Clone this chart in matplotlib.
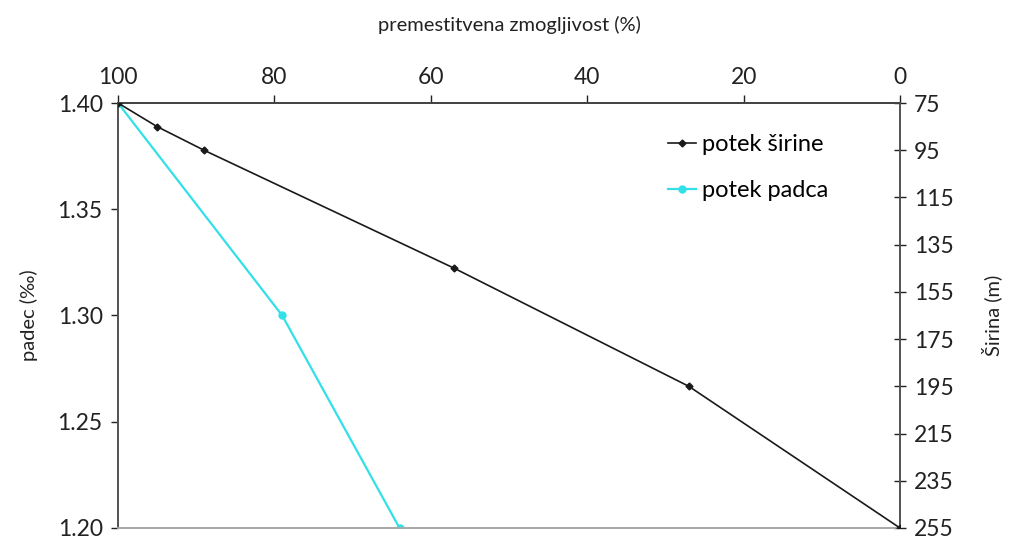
import matplotlib.pyplot as plt

plt.rcParams['font.family'] = ['Lato', 'DejaVu Sans']

# potek širine (right axis, m) vs premestitvena zmogljivost (%)
sirina_x = [100, 95, 89, 57, 27, 0]
sirina_y = [75, 85, 95, 145, 195, 255]

# potek padca (left axis, permille)
padec_x = [100, 79, 64]
padec_y = [1.40, 1.30, 1.20]

x_ticks = [100, 80, 60, 40, 20, 0]
left_ticks = [1.20, 1.25, 1.30, 1.35, 1.40]
right_ticks = [75, 95, 115, 135, 155, 175, 195, 215, 235, 255]

fig = plt.figure(figsize=(10.12, 5.38), dpi=100)
ax = fig.add_axes([118/1012, 1 - 528/538, (900-118)/1012, (528-103)/538])
ax2 = ax.twinx()

l2, = ax.plot(padec_x, padec_y, color='#33e0e8', lw=1.6, marker='o', ms=5,
              label='potek padca', zorder=3)
l1, = ax2.plot(sirina_x, sirina_y, color='#1a1a1a', lw=1.2, marker='D', ms=3.5,
               label='potek širine', zorder=3)

ax.set_xlim(100, 0)
ax.set_ylim(1.20, 1.40)
ax2.set_ylim(255, 75)

ax.xaxis.tick_top()
ax.xaxis.set_label_position('top')
ax.set_xticks(x_ticks)
ax.set_xticklabels([str(v) for v in x_ticks])
ax.set_yticks(left_ticks)
ax.set_yticklabels(['%.2f' % v for v in left_ticks])
ax2.set_yticks(right_ticks)
ax2.set_yticklabels([str(v) for v in right_ticks])

ax.set_xlabel('premestitvena zmogljivost (%)', fontsize=14.5, labelpad=26, color='#222222')
ax.set_ylabel('padec (‰)', fontsize=14.5, labelpad=14, color='#222222')
ax2.set_ylabel('Širina (m)', fontsize=14.5, labelpad=20, color='#222222')

ax.tick_params(axis='x', direction='out', length=6, width=1, labelsize=16.5,
               colors='#222222', pad=5)
ax.tick_params(axis='y', direction='out', length=5, width=1, labelsize=16.5,
               colors='#222222', pad=6)
ax2.tick_params(axis='y', direction='inout', length=8, width=1, labelsize=16.5,
                colors='#222222', pad=6)

for a in (ax, ax2):
    a.spines['top'].set_color('#444444')
    a.spines['left'].set_color('#555555')
    a.spines['right'].set_color('#555555')
    a.spines['bottom'].set_color('#aaaaaa')
    for s in a.spines.values():
        s.set_linewidth(1.3)

ax.legend([l1, l2], ['potek širine', 'potek padca'], loc='upper left',
          bbox_to_anchor=(0.703, 0.927), frameon=False, fontsize=17,
          borderpad=0, borderaxespad=0,
          handlelength=1.2, handletextpad=0.25, labelspacing=1.06)

fig.savefig('out.png', dpi=100)
